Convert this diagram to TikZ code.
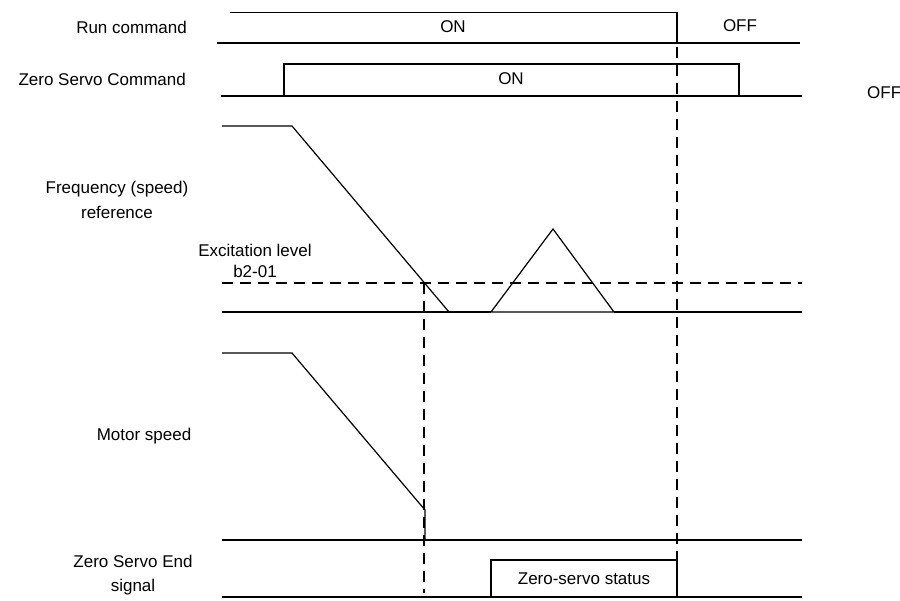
\documentclass[tikz,border=0pt]{standalone}
\usepackage{fontspec}
\setmainfont{Liberation Sans}
\usetikzlibrary{positioning}
\tikzset{
  wire/.style={black,line width=1.2pt},
  heavy/.style={black,line width=2.4pt},
  guide/.style={black,line width=1.2pt,dash pattern=on 11pt off 7pt},
  lab/.style={font=\fontsize{17}{20.5}\selectfont,align=center,inner sep=0pt},
  widelab/.style={lab,font=\fontsize{17}{24.5}\selectfont},
}

\begin{document}
\begin{tikzpicture}[x=1pt,y=-1pt]
  \path[use as bounding box] (0,0) rectangle (900,601);

  % signal names
  \node[lab,anchor=east] (runlab) at (187,27) {Run command};
  \node[lab,anchor=east] (zsclab) at (186,79) {Zero Servo Command};
  \node[widelab] (freqlab) at (117,200) {Frequency (speed)\\reference};
  \node[lab] (exclab) at (255,261) {Excitation level\\b2-01};
  \node[lab] (motlab) at (144,436) {Motor speed};
  \node[widelab] (endlab) at (133,575) {Zero Servo End\\signal};

  % run command
  \draw[wire] (230,12.7) -- (677,12.7) -- (677,43);
  \draw[wire] (217,43) -- (677,43);
  \draw[heavy] (677,43) -- (800,43);
  \node[lab] (runon) at (453,27) {ON};
  \node[lab] (runoff) at (740,26) {OFF};

  % zero servo command
  \draw[heavy] (221,96) -- (284,96);
  \draw[wire] (284,96) -- (284,64) -- (739,64) -- (739,96);
  \draw[wire] (284,96) -- (739,96);
  \draw[heavy] (739,96) -- (802,96);
  \node[lab] (zscon) at (511,79) {ON};
  \node[lab,anchor=west] (zscoff) at (867,93) {OFF};

  % frequency reference
  \draw[wire] (222,126) -- (292,126) -- (449,312);
  \draw[wire] (222,312) -- (449,312);
  \draw[heavy] (449,312) -- (491,312);
  \draw[wire] (491,312) -- (553,229) -- (614,312) -- cycle;
  \draw[heavy] (614,312) -- (802,312);
  \draw[guide] (222,283) -- (802,283);

  % motor speed
  \draw[wire] (222,353) -- (292,353) -- (425,510) -- (425,540);
  \draw[wire] (222,540) -- (425,540);
  \draw[heavy] (425,540) -- (802,540);

  % zero servo end
  \draw[wire] (222,597) -- (802,597);
  \draw[wire] (491,597) -- (491,560) -- (677,560) -- (677,597);
  \node[lab] (zsstat) at (584,579) {Zero-servo status};

  % timing guides
  \draw[guide] (424,283) -- (424,593);
  \draw[guide] (677,47) -- (677,560);
\end{tikzpicture}
\end{document}
